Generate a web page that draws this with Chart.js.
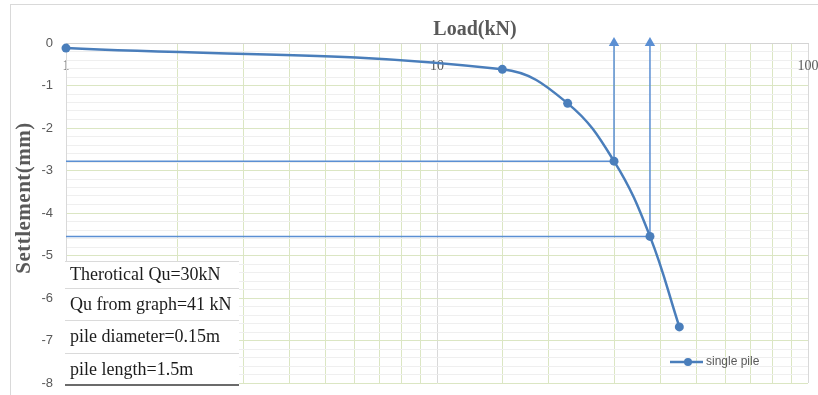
<!DOCTYPE html>
<html>
<head>
<meta charset="utf-8">
<script src="https://cdn.jsdelivr.net/npm/chart.js@4/dist/chart.umd.min.js"></script>
<style>
  html, body { margin: 0; padding: 0; background: #fff; }
  #wrap { position: relative; width: 818px; height: 395px; }
</style>
</head>
<body>
<div id="wrap"><canvas id="chart"></canvas></div>
<script>
// Load test, single pile: load (kN, log axis) vs settlement (mm).
const LOADS = [1, 15, 22.5, 30, 37.5, 45];
const SETTLEMENTS = [-0.12, -0.62, -1.42, -2.78, -4.55, -6.68];

// The two guide arrows start at these points of the curve.
const GUIDE_POINTS = [3, 4];

const X_LABELS = [1, 10, 100];
const Y_MIN = -8;
const Y_MAX = 0;

const NOTES = [
  "Therotical Qu=30kN",
  "Qu from graph=41 kN",
  "pile diameter=0.15m",
  "pile length=1.5m",
];
const SERIES_NAME = "single pile";

const BLUE = "#4a7ebb";
const GUIDE_BLUE = "#5b8fd3";
const GRAY_TEXT = "#595959";
const GREEN_GRID = "#dbe6c3";
const FAINT_GRID = "#efefef";
const AXIS_GRAY = "#d4d4d4";

const curve = LOADS.map((x, i) => ({ x, y: SETTLEMENTS[i] }));

// horizontal line from the y axis to the point, then straight up to 0 with an arrowhead
function guide(i) {
  const x = LOADS[i], y = SETTLEMENTS[i];
  return {
    data: [{ x: LOADS[0], y }, { x, y }, { x, y: Y_MAX }],
    borderColor: GUIDE_BLUE,
    borderWidth: 1.5,
    pointRadius: [0, 0, 6],
    pointStyle: "triangle",
    pointBackgroundColor: GUIDE_BLUE,
    pointBorderWidth: 0,
    tension: 0,
    clip: false,
  };
}

const isInt = (v) => Math.abs(v - Math.round(v)) < 1e-6;
const isDecade = (v) => X_LABELS.some((d) => Math.abs(d - v) < 1e-6);

// scales whose labels may overhang should not shrink the plot
const noOverhang = (s) => {
  s.paddingLeft = 0;
  s.paddingRight = 0;
  s.paddingTop = 0;
  s.paddingBottom = 0;
};

// frame, titles, notes box and in-plot legend
const extras = {
  id: "extras",
  beforeDraw(chart) {
    const c = chart.ctx;
    c.save();
    c.strokeStyle = "#d9d9d9";
    c.lineWidth = 1;
    c.strokeRect(10.5, 4.5, 830, 420);
    c.restore();
  },
  afterDraw(chart) {
    const c = chart.ctx;
    const a = chart.chartArea;
    c.save();

    // axis titles
    c.fillStyle = GRAY_TEXT;
    c.font = "bold 20px 'Liberation Serif'";
    c.textAlign = "center";
    c.textBaseline = "middle";
    c.fillText("Load(kN)", 475, 30);
    c.font = "bold 21px 'Liberation Serif'";
    c.letterSpacing = "0.5px";
    c.translate(25, 198);
    c.rotate(-Math.PI / 2);
    c.fillText("Settlement(mm)", 0, 0);
    c.setTransform(1, 0, 0, 1, 0, 0);
    c.letterSpacing = "0px";

    // notes table
    const bx = a.left - 1, bw = 174, top = 261;
    const rows = [top, 288, 320, 353, 385];
    c.fillStyle = "#fff";
    c.fillRect(bx, top, bw, rows[4] - top);
    c.strokeStyle = "#dadada";
    c.lineWidth = 1;
    for (let r = 0; r < 4; r++) {
      c.beginPath();
      c.moveTo(bx, rows[r] + 0.5);
      c.lineTo(bx + bw, rows[r] + 0.5);
      c.stroke();
    }
    c.strokeStyle = "#6b6b6b";
    c.lineWidth = 2;
    c.beginPath();
    c.moveTo(bx, rows[4]);
    c.lineTo(bx + bw, rows[4]);
    c.stroke();
    c.fillStyle = "#1c1c1c";
    c.font = "18px 'Liberation Serif'";
    c.textAlign = "left";
    c.textBaseline = "middle";
    NOTES.forEach((t, r) => c.fillText(t, 70, (rows[r] + rows[r + 1]) / 2 + 1));

    // legend
    const ly = 362;
    c.strokeStyle = BLUE;
    c.lineWidth = 2.5;
    c.beginPath();
    c.moveTo(670, ly);
    c.lineTo(703, ly);
    c.stroke();
    c.fillStyle = BLUE;
    c.beginPath();
    c.arc(688, ly, 4, 0, Math.PI * 2);
    c.fill();
    c.fillStyle = GRAY_TEXT;
    c.font = "12px 'Liberation Sans'";
    c.fillText(SERIES_NAME, 706, ly);
    c.restore();
  },
};

new Chart(document.getElementById("chart"), {
  type: "line",
  data: {
    datasets: [
      {
        label: SERIES_NAME,
        data: curve,
        borderColor: BLUE,
        backgroundColor: BLUE,
        borderWidth: 2.5,
        pointRadius: 4.5,
        pointBackgroundColor: BLUE,
        pointBorderWidth: 0,
        tension: 0.4,
        clip: false,
      },
      ...GUIDE_POINTS.map(guide),
    ],
  },
  options: {
    responsive: true,
    maintainAspectRatio: false,
    animation: false,
    layout: { padding: { top: 43, left: 0, right: 10, bottom: 12 } },
    plugins: { legend: { display: false }, tooltip: { enabled: false } },
    scales: {
      x: {
        type: "logarithmic",
        min: 1,
        max: 100,
        position: { y: 0 },
        afterFit: (s) => { noOverhang(s); s.height = 0; },
        border: { color: AXIS_GRAY },
        grid: {
          drawTicks: false,
          color: (ctx) => (ctx.tick && isDecade(ctx.tick.value) ? "#d9d9d9" : GREEN_GRID),
        },
        ticks: {
          autoSkip: false,
          maxRotation: 0,
          padding: 15,
          color: GRAY_TEXT,
          font: { family: "'Liberation Serif'", size: 14 },
          callback: (v) => (isDecade(v) ? String(v) : ""),
        },
      },
      y: {
        min: Y_MIN,
        max: Y_MAX,
        afterFit: (s) => { noOverhang(s); s.width = 66; },
        border: { color: "#d9d9d9" },
        grid: {
          drawTicks: false,
          color: (ctx) => {
            const v = ctx.tick ? ctx.tick.value : 0;
            if (Math.abs(v) < 1e-6) return AXIS_GRAY;
            return isInt(v) ? GREEN_GRID : FAINT_GRID;
          },
        },
        ticks: {
          stepSize: 0.2,
          autoSkip: false,
          padding: 13,
          color: GRAY_TEXT,
          font: { family: "'Liberation Sans'", size: 13 },
          callback: (v) => (isInt(v) ? String(Math.round(v)) : ""),
        },
      },
    },
  },
  plugins: [extras],
});
</script>
</body>
</html>
